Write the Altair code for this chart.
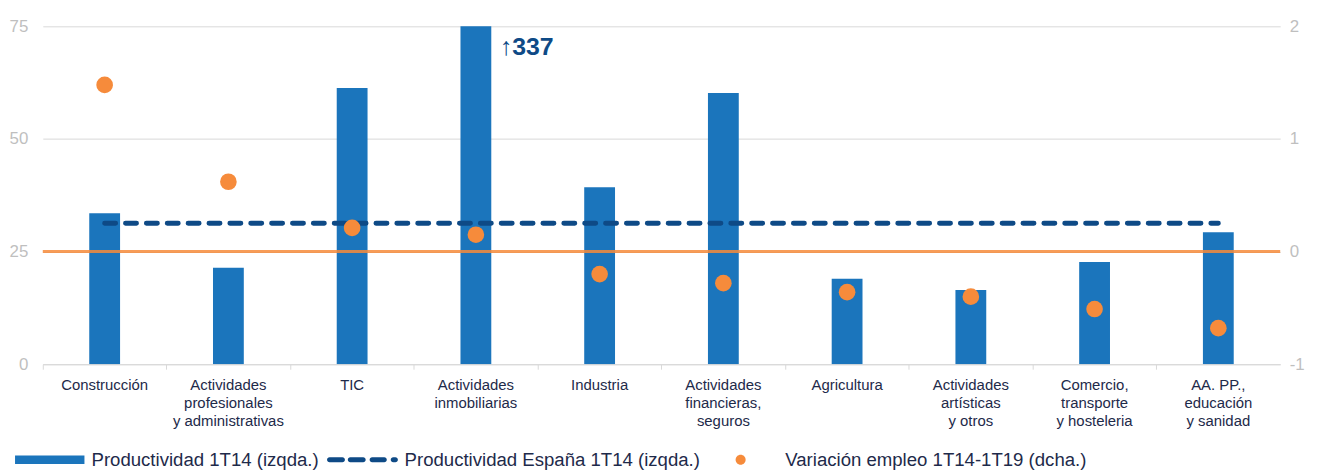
import altair as alt
import pandas as pd

# ---------------- data ----------------
categories = [
    "Construcción",
    "Actividades\nprofesionales\ny administrativas",
    "TIC",
    "Actividades\ninmobiliarias",
    "Industria",
    "Actividades\nfinancieras,\nseguros",
    "Agricultura",
    "Actividades\nartísticas\ny otros",
    "Comercio,\ntransporte\ny hosteleria",
    "AA. PP.,\neducación\ny sanidad",
]
productividad = [33.5, 21.4, 61.3, 337, 39.3, 60.2, 19.0, 16.5, 22.7, 29.3]
productividad_espana = 31.3
variacion_empleo = [1.48, 0.62, 0.21, 0.15, -0.20, -0.28, -0.36, -0.40, -0.51, -0.68]
left_ticks = [0, 25, 50, 75]
right_ticks = [-1, 0, 1, 2]
zero_line = [0]
annotation_category = ["Actividades\ninmobiliarias"]
annotation_text = ["↑337"]
legend_labels = [
    "Productividad 1T14 (izqda.)",
    "Productividad España 1T14 (izqda.)",
    "Variación empleo 1T14-1T19 (dcha.)",
]

# ---------------- styles ----------------
BAR = "#1B75BC"
NAVY = "#0E4A86"
ORANGE = "#F68B3B"
GRID = "#D9D9D9"
AXLAB = "#BFBFBF"
TXT = "#1E2A4A"
FONT = "Liberation Sans"

legend_shapes = [
    "M-0.97,-0.12H0.97V0.12H-0.97Z",
    "M-0.93,-0.07H-0.57A0.07,0.07 0 0 1 -0.57,0.07H-0.93A0.07,0.07 0 0 1 -0.93,-0.07Z"
    "M-0.35,-0.07H0.01A0.07,0.07 0 0 1 0.01,0.07H-0.35A0.07,0.07 0 0 1 -0.35,-0.07Z"
    "M0.26,-0.07H0.60A0.07,0.07 0 0 1 0.60,0.07H0.26A0.07,0.07 0 0 1 0.26,-0.07Z"
    "M0.85,-0.07H0.91A0.07,0.07 0 0 1 0.91,0.07H0.85A0.07,0.07 0 0 1 0.85,-0.07Z",
    "M-0.22,0A0.14,0.14 0 1 0 0.06,0A0.14,0.14 0 1 0 -0.22,0Z",
]

df = pd.DataFrame({
    "categoria": categories,
    "productividad": productividad,
    "espana": [productividad_espana] * len(categories),
    "empleo": variacion_empleo,
})
ann = pd.DataFrame({"categoria": annotation_category, "texto": annotation_text,
                    "y": [left_ticks[-1]]})
zero_df = pd.DataFrame({"cero": zero_line})
leg_df = pd.DataFrame({"serie": legend_labels})

x_enc = alt.X(
    "categoria:N",
    sort=categories,
    title=None,
    scale=alt.Scale(paddingInner=0, paddingOuter=0),
    axis=alt.Axis(
        labelExpr="split(datum.label, '\\n')",
        labelAngle=0,
        labelFont=FONT,
        labelFontSize=15,
        labelColor=TXT,
        labelLineHeight=18.5,
        labelPadding=8,
        labelLimit=0,
        domain=True,
        domainColor=GRID,
        ticks=True,
        tickColor=GRID,
        tickSize=5,
        bandPosition=0,
        grid=False,
    ),
)

left_y_scale = alt.Scale(domain=[0, 75], nice=False, zero=True)
left_axis = alt.Axis(
    orient="left", values=left_ticks, title=None, domain=False, ticks=False,
    labelFont=FONT, labelFontSize=17, labelColor=AXLAB, labelPadding=15,
    labelExpr="datum.value",
    grid=True, gridColor=GRID, gridWidth=1,
)

bars = alt.Chart(df).mark_bar(size=31, color=BAR, clip=True).encode(
    x=x_enc,
    y=alt.Y("productividad:Q", scale=left_y_scale, axis=left_axis),
)

dash = alt.Chart(df).mark_line(
    color=NAVY, strokeWidth=5, strokeDash=[11, 10], strokeCap="round"
).encode(
    x=alt.X("categoria:N", sort=categories),
    y=alt.Y("espana:Q", scale=left_y_scale, axis=left_axis),
)

annot = alt.Chart(ann).mark_text(
    align="left", baseline="middle", dx=24, dy=21,
    font=FONT, fontSize=25, fontWeight="bold", color=NAVY,
).encode(
    x=alt.X("categoria:N", sort=categories),
    y=alt.Y("y:Q", scale=left_y_scale, axis=left_axis),
    text="texto:N",
)

left = alt.layer(bars, dash, annot)

right_scale = alt.Scale(domain=[-1, 2], nice=False, zero=False)
right_axis = alt.Axis(
    orient="right", values=right_ticks, title=None, domain=False, ticks=False,
    labelFont=FONT, labelFontSize=17, labelColor=AXLAB, labelPadding=9,
    labelExpr="datum.value",
    grid=False,
)

rule = alt.Chart(zero_df).mark_rule(color=ORANGE, strokeWidth=3, opacity=0.85).encode(
    y=alt.Y("cero:Q", scale=right_scale, axis=right_axis),
)

dots = alt.Chart(df).mark_point(filled=True, size=280, color=ORANGE, opacity=1).encode(
    x=alt.X("categoria:N", sort=categories),
    y=alt.Y("empleo:Q", scale=right_scale, axis=right_axis),
)

right = alt.layer(rule, dots)

legend_props = dict(
    title=None, orient="none", direction="horizontal",
    legendX=-29, legendY=400, padding=0,
    labelFont=FONT, labelFontSize=18.7, labelColor=TXT,
    labelOffset=6, columnPadding=7, symbolSize=5184,
    symbolOpacity=1, symbolStrokeWidth=0, labelLimit=0,
)

legend_layer = alt.Chart(leg_df).mark_point(filled=True, size=0, opacity=0).encode(
    color=alt.Color(
        "serie:N",
        sort=legend_labels,
        scale=alt.Scale(domain=legend_labels, range=[BAR, NAVY, ORANGE]),
        legend=alt.Legend(**legend_props),
    ),
    shape=alt.Shape(
        "serie:N",
        sort=legend_labels,
        scale=alt.Scale(domain=legend_labels, range=legend_shapes),
        legend=alt.Legend(**legend_props),
    ),
)

chart = (
    alt.layer(left, right, legend_layer)
    .resolve_scale(y="independent")
    .properties(
        width=1245,
        height=340,
        padding={"left": 35, "top": 17, "right": 32, "bottom": 106},
        autosize=alt.AutoSizeParams(type="none"),
    )
    .configure(background="white")
    .configure_view(stroke=None, strokeWidth=0)
)

chart.save("out.html", embed_options={"renderer": "svg", "actions": False})
